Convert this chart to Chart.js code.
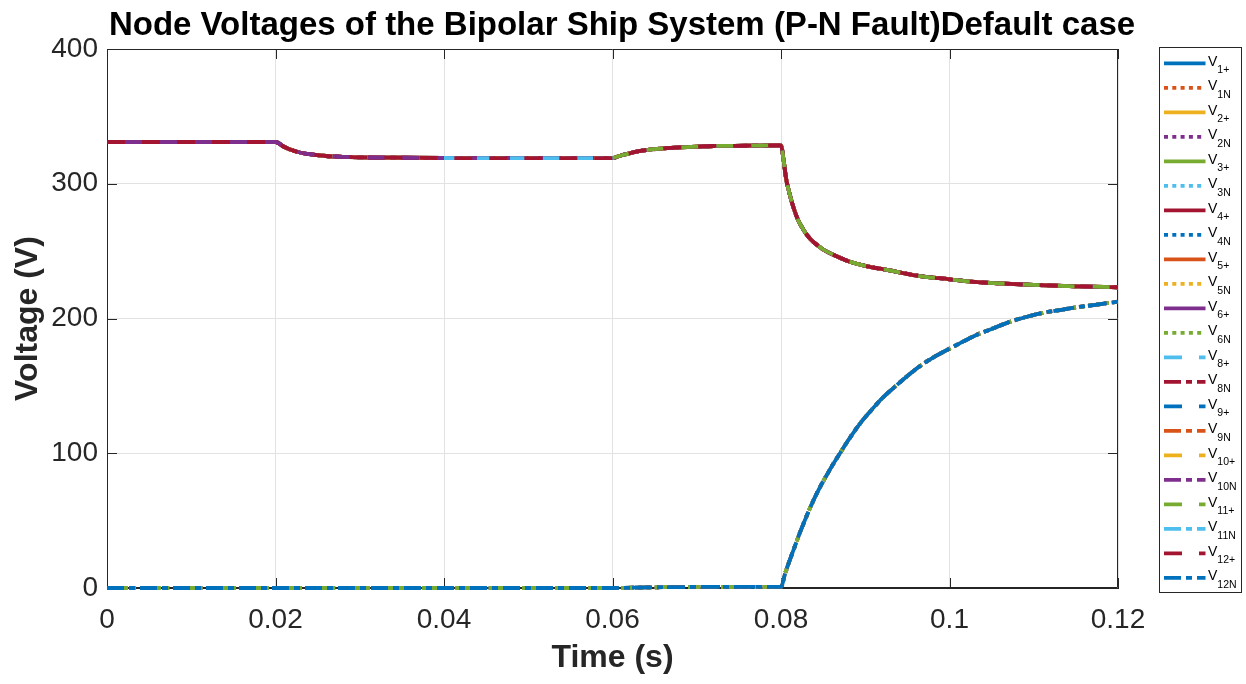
<!DOCTYPE html>
<html>
<head>
<meta charset="utf-8">
<script src="https://cdn.jsdelivr.net/npm/chart.js@4.4.1/dist/chart.umd.min.js"></script>
<style>
  html, body { margin: 0; padding: 0; background: #ffffff; }
  canvas { display: block; }
</style>
</head>
<body>
<canvas id="chart" width="1246" height="684"></canvas>
<script>
// Axis ticks
const xTickValues = [0, 0.02, 0.04, 0.06, 0.08, 0.1, 0.12];
const xTickLabels = ['0', '0.02', '0.04', '0.06', '0.08', '0.1', '0.12'];
const yTickValues = [0, 100, 200, 300, 400];
const yTickLabels = ['0', '100', '200', '300', '400'];

// Upper voltage trace: time (s) and voltage (V)
const tHigh = [0, 0.02, 0.021, 0.022, 0.023, 0.024, 0.026, 0.028, 0.03, 0.035,
  0.04, 0.05, 0.06, 0.061, 0.062, 0.063, 0.064, 0.066, 0.068, 0.07,
  0.072, 0.076, 0.08, 0.0803, 0.0806, 0.081, 0.0815, 0.082, 0.0826, 0.0832,
  0.0838, 0.0845, 0.085, 0.0866, 0.088, 0.09, 0.0926, 0.0965, 0.1, 0.1025,
  0.106, 0.11, 0.115, 0.12];
const vHigh = [331, 331, 327.5, 324.8, 323, 321.9, 320.6, 320, 319.6, 319.3,
  319.1, 319, 319, 321, 322.6, 324, 325, 326.2, 327, 327.5,
  328, 328.2, 328.5, 318, 304, 293, 282, 273.5, 266.5, 261,
  257, 253.5, 251.2, 246.2, 242.5, 239, 236, 231.5, 229.1, 227.3,
  226, 224.9, 223.9, 223.2];

// Lower voltage trace: time (s) and voltage (V)
const tLow = [0, 0.06, 0.062, 0.064, 0.066, 0.068, 0.072, 0.08, 0.0805, 0.081,
  0.0815, 0.0823, 0.084, 0.086, 0.087, 0.088, 0.0894, 0.0904, 0.092, 0.0933,
  0.0949, 0.0963, 0.0981, 0.0997, 0.1016, 0.1032, 0.1052, 0.1072, 0.1092, 0.1111,
  0.1131, 0.1151, 0.1171, 0.12];
const vLow = [0, 0, 0.2, 0.4, 0.6, 0.7, 0.8, 0.9, 11, 20,
  28.5, 42, 67, 90, 100, 109.8, 122.2, 129.6, 140.8, 148.2,
  156.8, 163.8, 171.2, 176.6, 182.8, 187.8, 192.7, 197.6, 201.3, 204.2,
  206.3, 208.3, 210.0, 212.5];

// Node names (legend subscripts)
const nodeNames = ['1+', '1N', '2+', '2N', '3+', '3N', '4+', '4N', '5+', '5N', '6+', '6N',
  '8+', '8N', '9+', '9N', '10+', '10N', '11+', '11N', '12+', '12N'];

// Trace followed by each node over each time span [from, to, trace]
const H = 'high', L = 'low';
const nodeSpans = [
  [[0, 0.12, H]], [[0, 0.12, L]], [[0, 0.12, H]], [[0, 0.12, L]],
  [[0, 0.12, H]], [[0, 0.12, L]], [[0, 0.12, H]], [[0, 0.12, L]],
  [[0, 0.12, H]], [[0, 0.12, L]], [[0, 0.12, H]], [[0, 0.12, L]],
  [[0, 0.12, H]], [[0, 0.12, H]], [[0, 0.12, L]], [[0, 0.12, L]],
  [[0, 0.12, H]], [[0, 0.12, H]],
  [[0, 0.06, L], [0.06, 0.12, H]],
  [[0.04, 0.06, H]],
  [[0, 0.12, H]], [[0, 0.12, L]]
];

// Line styling
const palette = ['#0072BD', '#D95319', '#EDB120', '#7E2F8E', '#77AC30', '#4DBEEE', '#A2142F'];
const dashPatterns = { solid: [], dot: [4, 4.3], dash: [18, 17], dashdot: [17, 5, 6, 5] };
function styleFor(i) {
  if (i < 12) return i % 2 === 0 ? 'solid' : 'dot';
  return i % 2 === 0 ? 'dash' : 'dashdot';
}

function spanPoints(spans) {
  const pts = [];
  spans.forEach(([t0, t1, which], k) => {
    const ts = which === H ? tHigh : tLow;
    const vs = which === H ? vHigh : vLow;
    if (k > 0) pts.push({ x: t0, y: null });
    ts.forEach((t, j) => {
      if (t >= t0 - 1e-9 && t <= t1 + 1e-9) pts.push({ x: t, y: vs[j] });
    });
  });
  return pts;
}

const datasets = nodeNames.map((name, i) => ({
  label: 'V' + name,
  data: spanPoints(nodeSpans[i]),
  borderColor: palette[i % palette.length],
  backgroundColor: palette[i % palette.length],
  borderWidth: 3.8,
  borderDash: dashPatterns[styleFor(i)],
  borderCapStyle: 'butt',
  borderJoinStyle: 'round',
  pointRadius: 0,
  fill: false,
  spanGaps: false,
  clip: 6,
  cubicInterpolationMode: 'monotone',
  order: nodeNames.length - 1 - i
}));

const FONT = "'Liberation Sans', Arial, Helvetica, sans-serif";
const AXIS_COLOR = '#262626';

// Box outline and inward tick marks
const frameAndTicks = {
  id: 'frameAndTicks',
  beforeDatasetsDraw(chart) {
    const { ctx, chartArea: a, scales } = chart;
    ctx.save();
    ctx.strokeStyle = AXIS_COLOR;
    ctx.lineWidth = 1;
    ctx.beginPath();
    ctx.rect(Math.round(a.left) + 0.5, Math.round(a.top) + 0.5,
      Math.round(a.right) - Math.round(a.left) - 1, Math.round(a.bottom) - Math.round(a.top) - 1);
    const len = 10;
    xTickValues.forEach(v => {
      const px = Math.round(scales.x.getPixelForValue(v)) + 0.5;
      ctx.moveTo(px, a.bottom); ctx.lineTo(px, a.bottom - len);
      ctx.moveTo(px, a.top); ctx.lineTo(px, a.top + len);
    });
    yTickValues.forEach(v => {
      const py = Math.round(scales.y.getPixelForValue(v)) + 0.5;
      ctx.moveTo(a.left, py); ctx.lineTo(a.left + len, py);
      ctx.moveTo(a.right, py); ctx.lineTo(a.right - len, py);
    });
    ctx.stroke();
    ctx.restore();
  }
};

// Title and subscripted legend
const titleAndLegend = {
  id: 'titleAndLegend',
  afterDraw(chart) {
    const { ctx } = chart;
    ctx.save();
    ctx.fillStyle = '#000000';
    ctx.font = 'bold 33px ' + FONT;
    ctx.textAlign = 'center';
    ctx.textBaseline = 'alphabetic';
    ctx.fillText('Node Voltages of the Bipolar Ship System (P-N Fault)Default case', 622, 35);

    // legend box
    const bx = 1159.5, by = 47.5, bw = 82, bh = 545;
    ctx.fillStyle = '#ffffff';
    ctx.fillRect(bx, by, bw, bh);
    ctx.strokeStyle = AXIS_COLOR;
    ctx.lineWidth = 1;
    ctx.strokeRect(bx, by, bw, bh);

    const y0 = 63.3, step = 24.5;
    chart.data.datasets.forEach((ds, i) => {
      const y = y0 + i * step;
      ctx.save();
      ctx.strokeStyle = ds.borderColor;
      ctx.lineWidth = ds.borderWidth;
      ctx.lineCap = 'butt';
      ctx.setLineDash(ds.borderDash);
      ctx.beginPath();
      ctx.moveTo(1164, y);
      ctx.lineTo(1205.5, y);
      ctx.stroke();
      ctx.restore();

      ctx.fillStyle = '#000000';
      ctx.textAlign = 'left';
      ctx.textBaseline = 'alphabetic';
      ctx.font = '14px ' + FONT;
      ctx.fillText('V', 1208, y + 2.5);
      const vw = ctx.measureText('V').width;
      ctx.font = '10.5px ' + FONT;
      ctx.fillText(ds.label.slice(1), 1208 + vw, y + 10);
    });
    ctx.restore();
  }
};

new Chart(document.getElementById('chart'), {
  type: 'line',
  data: { datasets },
  options: {
    responsive: false,
    animation: false,
    devicePixelRatio: 1,
    layout: { padding: { top: 49, right: 128, left: 0, bottom: 0 } },
    plugins: {
      legend: { display: false },
      tooltip: { enabled: false },
      title: { display: false }
    },
    scales: {
      x: {
        type: 'linear',
        min: 0,
        max: 0.12,
        afterBuildTicks: s => { s.ticks = xTickValues.map(v => ({ value: v })); },
        afterFit: s => { s.height = 96; },
        ticks: {
          autoSkip: false,
          maxRotation: 0,
          padding: 15,
          color: AXIS_COLOR,
          font: { family: FONT, size: 28 },
          callback: (v, i) => xTickLabels[i]
        },
        grid: { color: '#e2e2e2', lineWidth: 1, drawTicks: false },
        border: { display: true, color: AXIS_COLOR, width: 1 },
        title: {
          display: true,
          text: 'Time (s)',
          color: AXIS_COLOR,
          font: { family: FONT, size: 32, weight: 'bold' },
          padding: { top: 0, bottom: 7 }
        }
      },
      y: {
        type: 'linear',
        min: 0,
        max: 400,
        afterBuildTicks: s => { s.ticks = yTickValues.map(v => ({ value: v })); },
        afterFit: s => { s.width = 107; },
        ticks: {
          padding: 9,
          color: AXIS_COLOR,
          font: { family: FONT, size: 28 },
          callback: (v, i) => yTickLabels[i]
        },
        grid: { color: '#e2e2e2', lineWidth: 1, drawTicks: false },
        border: { display: true, color: AXIS_COLOR, width: 1 },
        title: {
          display: true,
          text: 'Voltage (V)',
          color: AXIS_COLOR,
          font: { family: FONT, size: 32, weight: 'bold' },
          padding: { top: 9, bottom: 0 }
        }
      }
    }
  },
  plugins: [frameAndTicks, titleAndLegend]
});
</script>
</body>
</html>
